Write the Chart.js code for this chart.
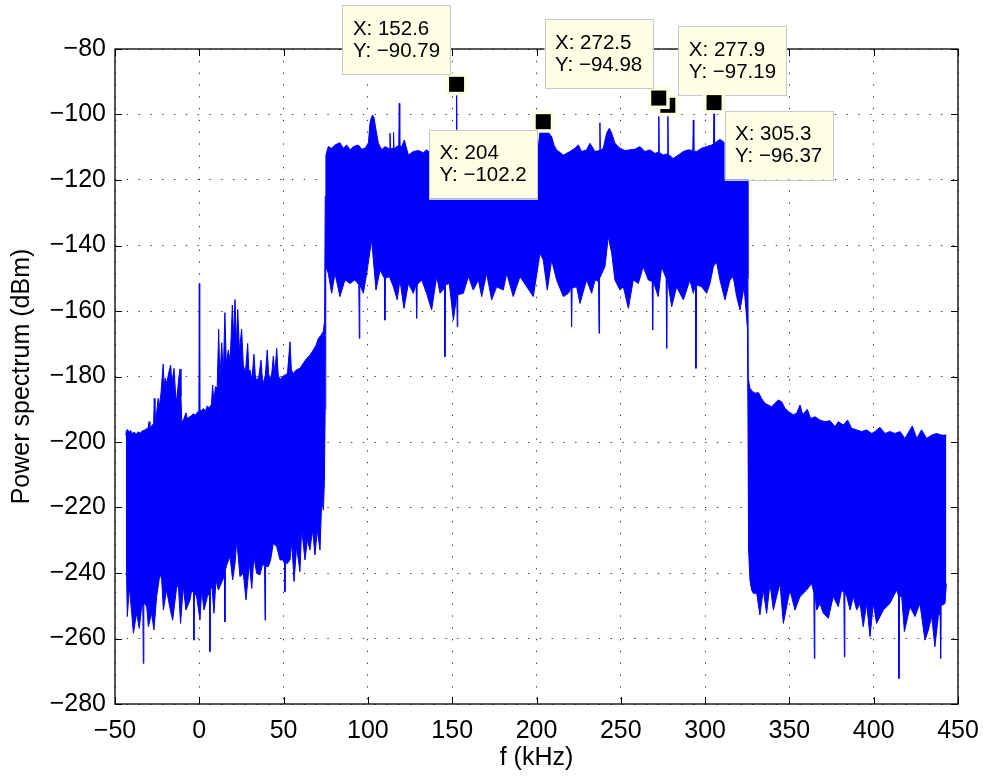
<!DOCTYPE html>
<html>
<head>
<meta charset="utf-8">
<script src="https://cdn.jsdelivr.net/npm/chart.js@4.4.1/dist/chart.umd.min.js"></script>
<style>
  html, body { margin: 0; padding: 0; background: #fff; }
  #wrap { width: 986px; height: 777px; }
</style>
</head>
<body>
<div id="wrap"><canvas id="chart-canvas" width="986" height="777"></canvas></div>
<script>
// top edge of the spectrum trace, [f (kHz), power (dBm)], left to right
const upperEdge = [
  [-43.6, -198.0], [-43.3, -196.6], [-42.5, -196.2], [-41.6, -197.0], [-40.8, -196.5], [-39.8, -197.4],
  [-38.6, -197.0], [-37.4, -197.6], [-36.2, -196.9], [-35.0, -197.3], [-33.8, -196.6], [-32.6, -196.4],
  [-31.4, -196.0], [-30.3, -195.6], [-29.8, -193.8], [-29.3, -195.8], [-28.2, -195.0], [-27.1, -194.4],
  [-26.7, -186.7], [-26.3, -193.5], [-25.2, -190.5], [-24.4, -186.7], [-23.8, -189.5], [-22.8, -185.5],
  [-21.4, -176.2], [-20.9, -183.0], [-20.2, -180.5], [-19.3, -182.1], [-18.2, -179.0], [-17.0, -176.5],
  [-16.2, -182.0], [-15.0, -177.5], [-14.2, -184.0], [-13.4, -188.0], [-12.3, -181.0], [-11.4, -177.7],
  [-10.9, -186.0], [-10.4, -193.8], [-9.2, -193.0], [-7.9, -191.1], [-7.2, -192.8], [-6.0, -192.4],
  [-4.8, -192.0], [-3.5, -191.4], [-2.2, -191.8], [-1.0, -190.8], [-0.25, -191.0], [0.0, -151.6],
  [0.25, -190.5], [1.4, -190.3], [2.6, -189.8], [3.7, -190.6], [4.6, -189.0], [5.8, -189.6],
  [7.2, -188.5], [7.9, -182.6], [8.6, -187.5], [9.6, -183.1], [10.6, -183.5], [11.5, -165.6],
  [12.2, -181.0], [13.3, -169.7], [14.2, -179.5], [15.2, -160.5], [16.0, -176.0], [17.2, -171.9],
  [18.3, -175.5], [19.6, -158.2], [20.3, -168.0], [21.2, -156.5], [22.0, -170.5], [22.8, -159.5],
  [23.8, -172.0], [25.1, -165.6], [26.1, -176.5], [27.3, -179.0], [28.7, -169.9], [29.4, -178.5],
  [30.1, -178.0], [31.2, -181.0], [32.4, -173.2], [33.2, -179.5], [34.0, -181.5], [35.3, -180.0],
  [36.6, -175.0], [37.4, -180.5], [38.0, -182.1], [39.2, -179.5], [40.3, -171.9], [41.1, -179.0],
  [41.9, -181.1], [43.0, -179.0], [43.9, -173.8], [44.8, -179.2], [45.9, -171.4], [46.8, -179.5],
  [47.9, -181.0], [49.2, -180.0], [50.8, -179.6], [52.3, -179.0], [53.8, -169.4], [54.6, -178.0],
  [55.8, -179.1], [57.5, -178.0], [59.7, -177.5], [61.6, -176.0], [63.7, -174.5], [65.6, -173.5],
  [67.6, -171.9], [69.2, -170.5], [70.6, -168.4], [72.0, -167.5], [73.5, -166.3], [74.3, -163.0],
  [74.7, -125.0], [75.1, -112.4], [76.5, -109.8], [78.5, -110.3], [80.5, -109.3], [83.4, -108.6],
  [85.4, -110.3], [87.4, -109.3], [89.4, -110.8], [91.4, -109.8], [94.3, -109.3], [96.3, -110.6],
  [98.3, -110.3], [100.3, -108.8], [101.2, -102.7], [102.2, -100.7], [102.8, -100.2], [103.6, -100.9],
  [104.8, -104.7], [106.2, -108.8], [108.2, -110.8], [110.1, -109.8], [112.8, -110.5], [113.1, -105.7],
  [113.4, -110.6], [115.0, -110.2], [115.2, -105.5], [115.5, -110.5], [117.0, -109.8], [118.3, -109.5],
  [118.6, -96.6], [118.9, -109.6], [120.0, -109.8], [121.6, -107.8], [124.0, -112.4], [126.9, -111.3],
  [129.9, -111.0], [132.9, -111.7], [134.8, -110.8], [137.5, -111.8], [140.3, -111.0], [143.0, -111.6],
  [146.0, -110.9], [149.0, -111.5], [152.3, -111.2], [152.6, -90.79], [152.9, -111.4], [155.5, -111.7],
  [158.5, -110.9], [161.5, -111.8], [164.5, -111.2], [167.5, -111.6], [170.5, -110.8], [173.5, -111.5],
  [176.5, -111.3], [179.5, -111.9], [182.5, -111.0], [185.5, -111.6], [188.5, -111.2], [191.5, -111.8],
  [194.5, -111.4], [197.5, -111.7], [199.8, -111.0], [201.1, -109.8], [202.2, -104.5], [203.0, -102.6],
  [204.0, -102.2], [205.0, -102.8], [206.0, -104.0], [207.5, -105.8], [209.0, -106.8], [210.5, -109.5],
  [211.9, -110.8], [215.9, -112.4], [219.9, -111.3], [222.8, -110.3], [224.8, -109.3], [226.8, -111.3],
  [229.7, -110.8], [231.7, -108.8], [234.7, -111.3], [237.3, -111.0], [237.6, -102.5], [237.9, -111.0],
  [239.6, -110.3], [241.6, -105.7], [243.2, -104.2], [244.6, -105.7], [246.5, -108.8], [249.5, -110.3],
  [252.5, -111.0], [255.4, -110.8], [258.4, -110.6], [261.4, -109.8], [264.3, -111.3], [267.3, -110.8],
  [270.3, -111.9], [272.2, -111.5], [272.5, -94.98], [272.8, -111.6], [275.2, -112.4], [277.6, -112.0],
  [277.9, -97.19], [278.2, -112.2], [281.1, -113.4], [284.1, -112.4], [287.1, -111.3], [290.0, -110.8],
  [292.7, -111.0], [293.0, -101.7], [293.3, -111.2], [295.0, -111.3], [297.9, -110.3], [300.9, -109.8],
  [303.9, -109.3], [305.0, -109.0], [305.3, -96.37], [305.6, -108.8], [306.8, -108.3], [308.8, -107.6],
  [310.8, -108.3], [313.0, -109.0], [316.0, -108.5], [319.0, -110.0], [322.0, -109.2], [325.2, -110.0],
  [325.4, -150.0], [325.6, -180.6], [326.6, -183.6], [328.2, -184.6], [329.6, -185.1], [331.6, -184.9],
  [333.5, -186.7], [335.5, -188.2], [337.5, -188.7], [339.5, -189.2], [341.4, -188.2], [343.4, -187.2],
  [345.4, -187.7], [347.4, -189.7], [349.4, -190.7], [352.3, -191.7], [354.3, -191.2], [356.3, -188.7],
  [357.9, -191.7], [360.6, -190.0], [362.6, -192.8], [365.2, -192.3], [368.1, -193.3], [371.1, -193.8],
  [374.1, -193.5], [377.0, -195.3], [379.0, -193.8], [382.0, -194.8], [384.5, -193.3], [386.9, -195.8],
  [389.9, -196.3], [392.8, -196.8], [395.8, -196.3], [398.8, -197.4], [400.8, -196.8], [403.7, -195.5],
  [406.7, -197.4], [409.6, -196.8], [412.6, -197.4], [415.6, -196.8], [418.5, -198.9], [422.9, -195.1],
  [425.5, -198.9], [428.4, -196.3], [431.4, -198.9], [434.4, -197.9], [437.3, -197.4], [440.3, -197.9],
  [443.1, -197.9]
];

// bottom edge of the spectrum trace, left to right
const lowerEdge = [
  [-43.6, -240.0], [-43.1, -241.1], [-42.7, -253.3], [-41.5, -244.2], [-40.1, -252.3], [-39.1, -258.4],
  [-37.2, -252.3], [-35.6, -256.9], [-34.2, -250.3], [-33.5, -250.0], [-33.2, -267.6], [-32.9, -249.0],
  [-31.2, -250.3], [-30.2, -256.4], [-28.3, -252.3], [-26.9, -257.4], [-25.3, -247.2], [-23.3, -240.1],
  [-22.3, -242.1], [-21.3, -251.3], [-19.4, -245.2], [-17.4, -250.8], [-15.8, -254.4], [-13.4, -244.2],
  [-12.4, -244.2], [-11.1, -255.4], [-9.5, -244.2], [-7.9, -251.3], [-5.5, -248.2], [-4.5, -245.2],
  [-3.5, -246.0], [-3.2, -260.5], [-2.9, -246.0], [-1.6, -247.2], [0.4, -254.4], [1.4, -245.2],
  [2.8, -251.3], [4.8, -247.2], [6.0, -246.0], [6.3, -264.0], [6.6, -245.0], [7.5, -244.2],
  [8.7, -252.3], [9.9, -242.1], [11.3, -245.2], [13.9, -242.1], [14.9, -241.0], [15.2, -254.9],
  [15.5, -239.0], [16.2, -237.6], [18.2, -235.0], [19.8, -242.1], [21.2, -237.1], [22.2, -229.9],
  [24.1, -241.1], [26.1, -240.1], [27.7, -248.2], [29.7, -237.1], [31.1, -244.7], [32.4, -235.0],
  [34.0, -240.1], [36.0, -240.6], [37.6, -237.1], [38.7, -238.0], [39.0, -254.4], [39.3, -238.0],
  [40.9, -238.1], [42.3, -236.0], [43.9, -230.9], [45.9, -232.0], [47.9, -236.0], [49.4, -236.0],
  [50.5, -237.0], [50.8, -245.7], [51.1, -237.0], [52.2, -237.1], [53.8, -236.0], [54.8, -230.4],
  [56.2, -242.6], [57.7, -232.0], [59.7, -239.6], [60.7, -226.4], [62.7, -236.0], [64.1, -229.9],
  [65.6, -233.0], [67.2, -226.9], [68.6, -234.5], [70.0, -226.9], [71.6, -233.0], [72.6, -217.7],
  [73.6, -220.8], [74.2, -212.0], [74.6, -190.0], [74.9, -160.0], [75.1, -146.5], [76.5, -148.5],
  [78.5, -154.6], [80.5, -148.5], [83.4, -155.6], [86.4, -150.5], [89.4, -151.6], [92.3, -150.5],
  [94.6, -152.0], [94.9, -168.4], [95.2, -152.0], [97.3, -154.6], [99.3, -148.5], [102.2, -138.3],
  [104.8, -153.6], [107.2, -147.5], [109.8, -150.0], [110.1, -162.8], [110.4, -150.0], [112.7, -149.5],
  [115.1, -152.6], [117.4, -156.6], [119.0, -150.5], [121.4, -159.2], [124.0, -151.6], [126.9, -154.6],
  [128.6, -152.0], [128.9, -162.2], [129.2, -152.0], [131.9, -150.5], [134.8, -154.6], [137.8, -159.7],
  [140.8, -149.5], [142.8, -154.6], [145.4, -153.0], [145.7, -174.0], [146.0, -152.0], [148.3, -151.6],
  [150.7, -162.8], [152.7, -155.0], [153.0, -164.8], [153.3, -155.0], [156.6, -154.6], [159.6, -149.5],
  [162.5, -153.6], [165.5, -150.5], [167.5, -155.6], [170.4, -148.5], [173.4, -156.6], [176.4, -152.6],
  [180.3, -153.6], [182.3, -148.5], [186.2, -155.6], [190.2, -149.5], [194.2, -152.6], [198.1, -155.6],
  [202.1, -142.4], [204.0, -144.4], [206.4, -153.6], [209.0, -144.4], [211.9, -150.5], [215.9, -155.6],
  [218.9, -154.6], [220.5, -153.0], [220.8, -164.8], [221.1, -153.0], [223.8, -152.6], [225.8, -157.7],
  [229.7, -150.5], [232.7, -154.6], [234.7, -150.5], [236.8, -151.0], [237.1, -166.8], [237.4, -150.0],
  [240.6, -146.5], [242.6, -137.3], [244.6, -142.4], [246.5, -150.5], [249.5, -153.6], [251.5, -152.6],
  [254.5, -159.2], [257.4, -150.5], [260.4, -151.6], [263.3, -146.5], [266.3, -150.5], [268.6, -151.0],
  [268.9, -165.8], [269.2, -151.0], [270.3, -152.6], [272.2, -155.6], [274.2, -146.5], [276.9, -150.0],
  [277.2, -171.4], [277.5, -150.0], [280.2, -158.7], [283.1, -152.6], [287.1, -156.6], [291.0, -150.5],
  [293.0, -154.6], [294.3, -152.0], [294.6, -177.5], [294.9, -152.0], [297.9, -152.6], [300.9, -154.6],
  [302.9, -151.6], [304.9, -146.5], [306.8, -145.0], [308.8, -150.5], [311.8, -156.6], [314.7, -150.5],
  [316.7, -149.5], [318.7, -155.6], [320.7, -159.7], [323.1, -152.6], [325.1, -165.0], [325.5, -200.0],
  [325.8, -233.0], [326.6, -242.1], [327.6, -245.2], [328.6, -246.2], [330.6, -246.2], [332.5, -252.8],
  [334.5, -245.2], [336.5, -252.3], [338.5, -243.2], [340.5, -251.3], [342.4, -247.2], [344.4, -243.2],
  [346.4, -255.4], [350.3, -245.2], [353.3, -251.3], [356.3, -247.2], [360.2, -245.2], [363.2, -243.2],
  [364.5, -246.0], [364.8, -266.1], [365.1, -246.0], [366.2, -251.3], [368.1, -249.3], [370.1, -252.3],
  [373.1, -253.8], [376.0, -247.2], [379.0, -250.3], [381.0, -245.2], [382.3, -246.0], [382.6, -265.6],
  [382.9, -246.0], [384.0, -247.2], [386.0, -251.3], [387.9, -247.2], [389.9, -251.3], [391.9, -249.3],
  [393.8, -256.4], [395.8, -249.3], [397.8, -259.4], [399.8, -249.3], [401.7, -255.4], [405.7, -251.3],
  [409.6, -249.3], [413.6, -245.2], [414.7, -247.0], [415.0, -272.2], [415.3, -247.0], [416.6, -247.2],
  [418.2, -257.9], [421.5, -250.3], [424.5, -253.3], [427.4, -249.3], [430.4, -260.5], [432.4, -257.4],
  [434.4, -253.3], [436.3, -262.5], [438.3, -253.3], [439.4, -252.0], [439.7, -266.1], [440.0, -250.0],
  [442.3, -249.3], [443.1, -243.2]
];

// data cursors shown on the figure
const tipFreq = [277.9, 272.5, 152.6, 204, 305.3];
const tipPower = [-97.19, -94.98, -90.79, -102.2, -96.37];
const tipSide = ['upRight', 'upLeft', 'upLeft', 'downLeft', 'downRight'];

const fTicks = [-50, 0, 50, 100, 150, 200, 250, 300, 350, 400, 450];
const powerTicks = [-280, -260, -240, -220, -200, -180, -160, -140, -120, -100, -80];

const FONT = "'Liberation Sans', Arial, Helvetica, sans-serif";
const BLUE = '#0000ff';
const minus = v => String(v).replace('-', '\u2212');

Chart.defaults.font.family = FONT;
Chart.defaults.font.size = 25;
Chart.defaults.color = '#000';

// MATLAB-like box with inward ticks on all four sides
const matlabAxes = {
  id: 'matlabAxes',
  afterDatasetsDraw(chart) {
    const { ctx, chartArea: a, scales: { x, y } } = chart;
    ctx.save();
    ctx.strokeStyle = '#000';
    ctx.lineWidth = 1;
    ctx.beginPath();
    x.ticks.forEach(t => {
      const px = Math.round(x.getPixelForValue(t.value)) + 0.5;
      ctx.moveTo(px, a.bottom); ctx.lineTo(px, a.bottom - 7);
      ctx.moveTo(px, a.top); ctx.lineTo(px, a.top + 7);
    });
    y.ticks.forEach(t => {
      const py = Math.round(y.getPixelForValue(t.value)) + 0.5;
      ctx.moveTo(a.left, py); ctx.lineTo(a.left + 7, py);
      ctx.moveTo(a.right, py); ctx.lineTo(a.right - 7, py);
    });
    ctx.stroke();
    ctx.lineWidth = 1.3;
    ctx.strokeRect(a.left, a.top, a.right - a.left, a.bottom - a.top);
    ctx.restore();
  }
};

const dataTips = {
  id: 'dataTips',
  afterDraw(chart) {
    const { ctx, scales: { x, y } } = chart;
    ctx.save();
    ctx.font = '20.5px ' + FONT;
    ctx.textBaseline = 'middle';
    tipFreq.forEach((f, i) => {
      const mx = x.getPixelForValue(f);
      const my = y.getPixelForValue(tipPower[i]);
      const l1 = 'X: ' + f;
      const l2 = 'Y: ' + minus(tipPower[i]);
      const w = Math.max(ctx.measureText(l1).width, ctx.measureText(l2).width) + 21;
      const h = 69;
      const side = tipSide[i];
      const left = side.endsWith('Left') ? mx - 6 - w : mx + 10.5;
      const top = side.startsWith('up') ? my - 10 - h : my + 8;

      // marker
      ctx.fillStyle = '#ffffe1';
      ctx.fillRect(mx - 11, my - 11, 22, 22);
      ctx.fillStyle = '#000';
      ctx.fillRect(mx - 7.5, my - 7.5, 15, 15);

      // box
      ctx.fillStyle = '#ffffe6';
      ctx.fillRect(left, top, w, h);
      ctx.strokeStyle = '#c8c8c8';
      ctx.lineWidth = 1;
      ctx.strokeRect(Math.round(left) + 0.5, Math.round(top) + 0.5, Math.round(w), Math.round(h));
      ctx.fillStyle = '#000';
      ctx.fillText(l1, left + 10.5, top + 24);
      ctx.fillText(l2, left + 10.5, top + 46);
    });
    ctx.restore();
  }
};

const toPoints = arr => arr.map(([f, p]) => ({ x: f, y: p }));

const ctx = document.getElementById('chart-canvas').getContext('2d');
new Chart(ctx, {
  type: 'line',
  data: {
    datasets: [
      {
        data: toPoints(upperEdge),
        borderColor: BLUE,
        backgroundColor: BLUE,
        borderWidth: 1,
        pointRadius: 0,
        fill: '+1'
      },
      {
        data: toPoints(lowerEdge),
        borderColor: BLUE,
        backgroundColor: BLUE,
        borderWidth: 1,
        pointRadius: 0,
        fill: false
      }
    ]
  },
  options: {
    responsive: false,
    animation: false,
    events: [],
    layout: { padding: { top: 49, right: 28, bottom: 0, left: 0 } },
    plugins: {
      legend: { display: false },
      tooltip: { enabled: false }
    },
    scales: {
      x: {
        type: 'linear',
        min: -50,
        max: 450,
        afterBuildTicks: s => { s.ticks = fTicks.map(v => ({ value: v })); },
        afterFit: s => { s.height = 73; s.paddingLeft = 0; s.paddingRight = 0; },
        ticks: { padding: 12, maxRotation: 0, callback: v => minus(v) },
        grid: { color: '#333', lineWidth: 1, drawTicks: false },
        border: { display: false, dash: [1.3, 10.5] },
        title: { display: true, text: 'f (kHz)', padding: { top: 0, bottom: 4 } }
      },
      y: {
        type: 'linear',
        min: -280,
        max: -80,
        afterBuildTicks: s => { s.ticks = powerTicks.map(v => ({ value: v })); },
        afterFit: s => { s.width = 115; s.paddingTop = 0; s.paddingBottom = 0; },
        ticks: { padding: 9, callback: v => minus(v) },
        grid: { color: '#333', lineWidth: 1, drawTicks: false },
        border: { display: false, dash: [1.3, 10.5] },
        title: { display: true, text: 'Power spectrum (dBm)', padding: { top: 7, bottom: 0 } }
      }
    }
  },
  plugins: [matlabAxes, dataTips]
});
</script>
</body>
</html>
